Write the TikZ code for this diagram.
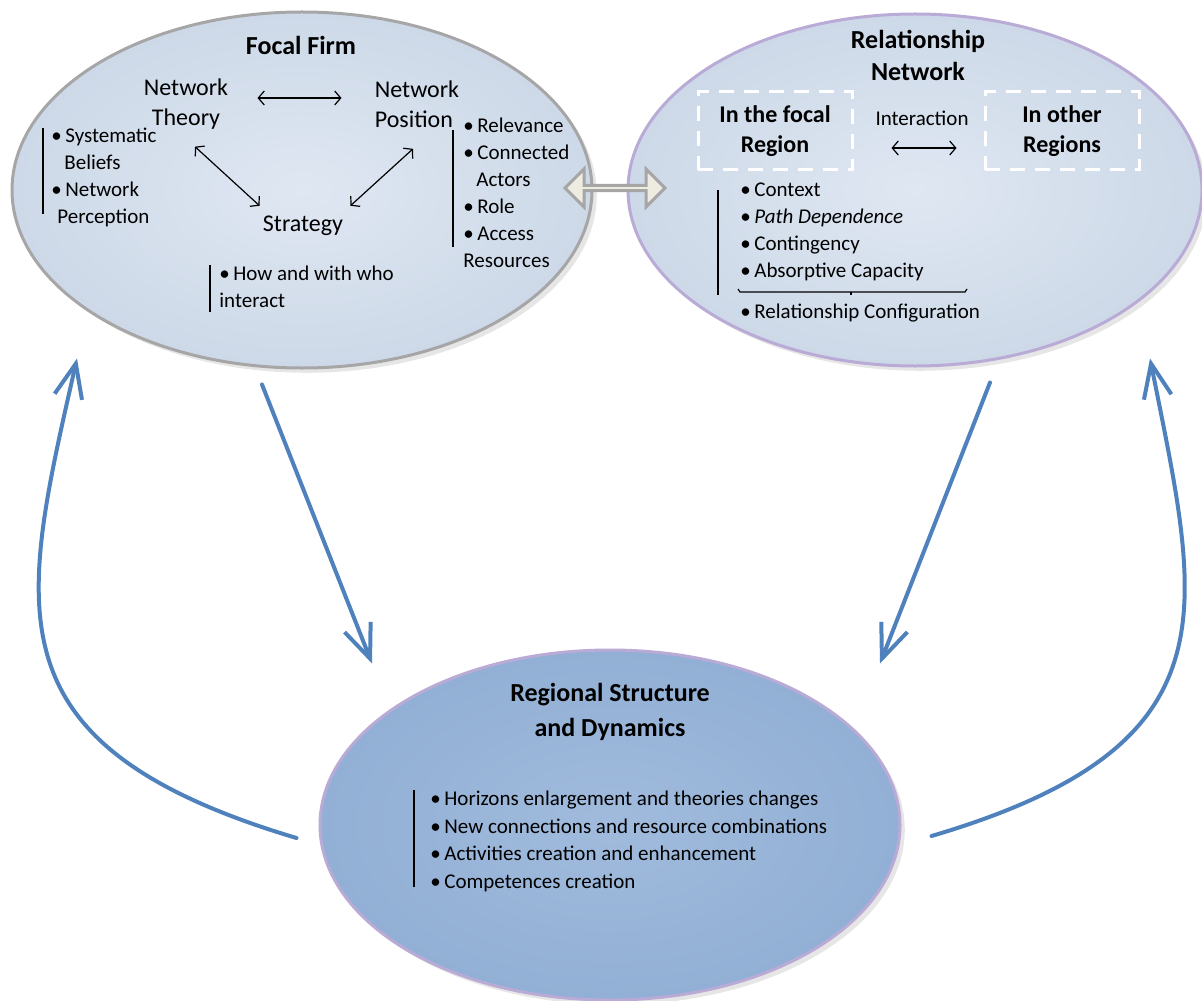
\documentclass[tikz,border=0pt]{standalone}
\usepackage{fontspec}
\setmainfont{Carlito}
\usetikzlibrary{arrows.meta,shapes.geometric,shapes.arrows,shadows}
\definecolor{ovalin}{HTML}{DFE7F2}
\definecolor{ovalout}{HTML}{CDD9E8}
\definecolor{firmedge}{HTML}{A6A6A6}
\definecolor{netedge}{HTML}{B9ABD6}
\definecolor{regionin}{HTML}{A0BBDC}
\definecolor{regionout}{HTML}{92AFD5}
\definecolor{flowblue}{HTML}{4F81BD}
\definecolor{linkfill}{HTML}{EEECE1}
\newcommand{\bul}{\textbullet\,}

\tikzset{
	oval/.style={ellipse, inner sep=0pt, line width=1.5pt, drop shadow={opacity=0.2}},
	title/.style={font=\fontsize{13}{16}\selectfont\bfseries, align=center},
	concept/.style={font=\fontsize{12}{15}\selectfont, align=center, inner sep=0pt},
	item/.style={font=\fontsize{10.5}{13.5}\selectfont, align=left, anchor=north west, inner sep=0pt},
	zone/.style={draw=white, dash pattern=on 7.5pt off 5pt, line width=1.5pt, minimum width=77pt, minimum height=39pt, align=center, font=\fontsize{12}{15}\selectfont\bfseries},
	tie/.style={line width=0.6pt, {Straight Barb[length=3pt,width=7pt]}-{Straight Barb[length=3pt,width=7pt]}},
	bar/.style={line width=0.6pt},
	flow/.style={draw=flowblue, line width=2pt, line cap=round, -{Straight Barb[length=17pt,width=14pt]}},
}

\begin{document}
\begin{tikzpicture}[x=0.5pt,y=-0.5pt]
	\useasboundingbox (0,0) rectangle (1202,1000);
	% the three ovals
	\node (firm) [oval, draw=firmedge, inner color=ovalin, outer color=ovalout, minimum width=290pt, minimum height=178pt] at (302,190) {};
	\node (net) [oval, draw=netedge, inner color=ovalin, outer color=ovalout, minimum width=287pt, minimum height=176pt] at (915,190) {};
	\node (region) [oval, draw=netedge, inner color=regionin, outer color=regionout, minimum width=290pt, minimum height=175pt] at (610,825) {};
	\node (link) [double arrow, draw=firmedge, fill=linkfill, line width=1.5pt, minimum width=19pt, double arrow head extend=4.5pt, minimum height=50pt, inner sep=0pt] at (615,188) {};

	% focal firm
	\node (firmtitle) [title] at (301,45) {Focal Firm};
	\node (theory) [concept] at (186,104) {Network\\Theory};
	\node (position) [concept, align=left] at (417,104) {Network\\Position};
	\node (strategy) [concept] at (303,226) {Strategy};
	\draw [tie] ([shift={(29,-6)}]theory.east) -- ([shift={(-33,-6)}]position.west);
	\draw [tie] ([shift={(9,17)}]theory.south) -- ([shift={(-3,-10)}]strategy.north west);
	\draw [tie] ([shift={(-4,21)}]position.south) -- ([shift={(7,-10)}]strategy.north east);
	\node (beliefs) [item] at (51,128) {\bul Systematic\\\hspace*{6.5pt}Beliefs\\\bul Network\\\hspace*{3pt}Perception};
	\node (assets) [item] at (463,118) {\bul Relevance\\\bul Connected\\\hspace*{6.5pt}Actors\\\bul Role\\\bul Access\\Resources};
	\node (howwho) [item] at (219,266) {\bul How and with who\\interact};
	\draw [bar] (43,128) -- (43,214);
	\draw [bar] (453,130) -- (453,247);
	\draw [bar] (210,265) -- (210,312);

	% relationship network
	\node (nettitle) [title] at (918,55) {Relationship\\Network};
	\node (focal) [zone] at (775,131) {In the focal\\Region};
	\node (other) [zone] at (1062,131) {In other\\Regions};
	\node (inter) [font=\fontsize{10.5}{13}\selectfont] at (922,118) {Interaction};
	\draw [tie] ([shift={(38,17)}]focal.east) -- ([shift={(-27,17)}]other.west);
	\node (factors) [item] at (740,182) {\bul Context\\\bul \textit{Path Dependence}\\\bul Contingency\\\bul Absorptive Capacity};
	\node (config) [item] at (740,304) {\bul Relationship\ Configuration};
	\draw [bar] (718,190) -- (718,295);
	\draw [bar] (738,289) -- (740,292) -- (965,292) -- (967,289);
	\draw [bar] (851,292) -- (851,295);

	% regional structure
	\node (regiontitle) [title, font=\fontsize{13}{17.5}\selectfont\bfseries] at (610,712) {Regional Structure\\and Dynamics};
	\node (outcomes) [item, font=\fontsize{10.5}{13.7}\selectfont] at (430,791) {\bul Horizons enlargement and theories changes\\\bul New connections and resource combinations\\\bul Activities creation and enhancement\\\bul Competences creation};
	\draw [bar] (414,790) -- (414,887);

	% feedback arrows
	\draw [flow] ([shift={(-40,15)}]firm.south) -- ([shift={(-238,15)}]region.north);
	\draw [flow] ([shift={(75,15)}]net.south) -- ([shift={(270,15)}]region.north);
	\draw [flow] ([shift={(-22,13)}]region.west) .. controls (-15,745) and (20,610) .. ([shift={(-225,-11)}]firm.south);
	\draw [flow] ([shift={(30,11)}]region.east) .. controls (1240,745) and (1200,610) .. ([shift={(235,-9)}]net.south);
\end{tikzpicture}
\end{document}
